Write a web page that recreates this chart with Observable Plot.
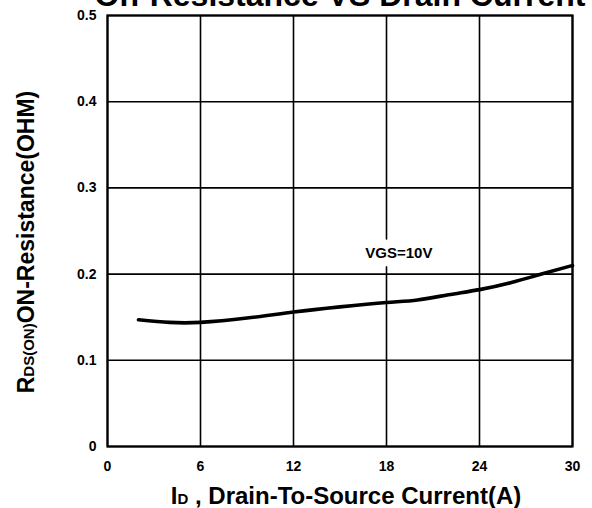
<!DOCTYPE html>
<html><head><meta charset="utf-8">
<script src="https://cdn.jsdelivr.net/npm/d3@7"></script>
<script src="https://cdn.jsdelivr.net/npm/@observablehq/plot@0.6"></script>
<style>
body{margin:0;background:#fff;}
svg{font-family:"Liberation Sans",Arial,sans-serif;overflow:visible;}
</style>
</head><body><div id="chart"></div>
<script>
// Data
const currentA = [2, 4, 6, 9, 12, 15, 18, 20, 22, 24, 26, 28, 30];
const resistanceOhm = [0.147, 0.144, 0.144, 0.149, 0.156, 0.162, 0.167, 0.170, 0.176, 0.182, 0.190, 0.200, 0.210];
const xTicks = [0, 6, 12, 18, 24, 30];
const yTicks = [0, 0.1, 0.2, 0.3, 0.4, 0.5];
const curveLabel = ["VGS=10V"];
const curveLabelX = [18.8];
const curveLabelY = [0.224];
const titleText = "On-Resistance VS Drain Current";
const xLabelParts = ["I", "D", " , Drain-To-Source Current(A)"];
const yLabelParts = ["R", "DS(ON)", "ON-Resistance(OHM)"];

const curve = currentA.map((x, i) => ({x, y: resistanceOhm[i]}));
const labels = curveLabel.map((t, i) => ({t, x: curveLabelX[i], y: curveLabelY[i]}));

const chart = Plot.plot({
  width: 592,
  height: 508,
  marginLeft: 107,
  marginRight: 20,
  marginTop: 15,
  marginBottom: 62,
  style: {background: "#fff", overflow: "visible"},
  x: {domain: [0, 30]},
  y: {domain: [0, 0.5]},
  marks: [
    Plot.gridX(xTicks, {stroke: "#000", strokeOpacity: 1, strokeWidth: 1.6}),
    Plot.gridY(yTicks, {stroke: "#000", strokeOpacity: 1, strokeWidth: 1.6}),
    Plot.frame({stroke: "#000", strokeWidth: 2.2}),
    Plot.axisX({ticks: xTicks, tickSize: 0, tickPadding: 15, fontSize: 14, fontWeight: "bold", label: null, tickFormat: d => String(d)}),
    Plot.axisY({ticks: yTicks, tickSize: 0, tickPadding: 11, fontSize: 14, fontWeight: "bold", label: null, tickFormat: d => String(d)}),
    Plot.text(labels, {x: "x", y: "y", text: "t", fontSize: 15, fontWeight: "bold", fill: "#000", stroke: "#fff", strokeWidth: 18, strokeLinejoin: "round"}),
    Plot.line(curve, {x: "x", y: "y", curve: "natural", stroke: "#000", strokeWidth: 3.6}),
    Plot.text([titleText], {frameAnchor: "top", dy: -10, lineAnchor: "bottom", fontSize: 32, fontWeight: "bold", fill: "#000", className: "ttl"}),
    Plot.text([xLabelParts.join("")], {frameAnchor: "bottom", textAnchor: "middle", dx: 6, dy: 57, lineAnchor: "bottom", fontSize: 24, fontWeight: "bold", fill: "#000", className: "xlab"}),
    Plot.text([yLabelParts.join("")], {frameAnchor: "left", textAnchor: "middle", dx: -74, dy: 11, rotate: -90, lineAnchor: "bottom", fontSize: 23, fontWeight: "bold", fill: "#000", className: "ylab"})
  ]
});

// turn the subscript parts into smaller tspans
function subscript(sel, parts, size) {
  const t = d3.select(chart).select(sel);
  t.text(null);
  t.append("tspan").text(parts[0]);
  t.append("tspan").attr("font-size", size).text(parts[1]);
  t.append("tspan").text(parts[2]);
}
subscript("g.xlab text", xLabelParts, "15px");
subscript("g.ylab text", yLabelParts, "15px");

document.getElementById("chart").appendChild(chart);
</script>
</body></html>
